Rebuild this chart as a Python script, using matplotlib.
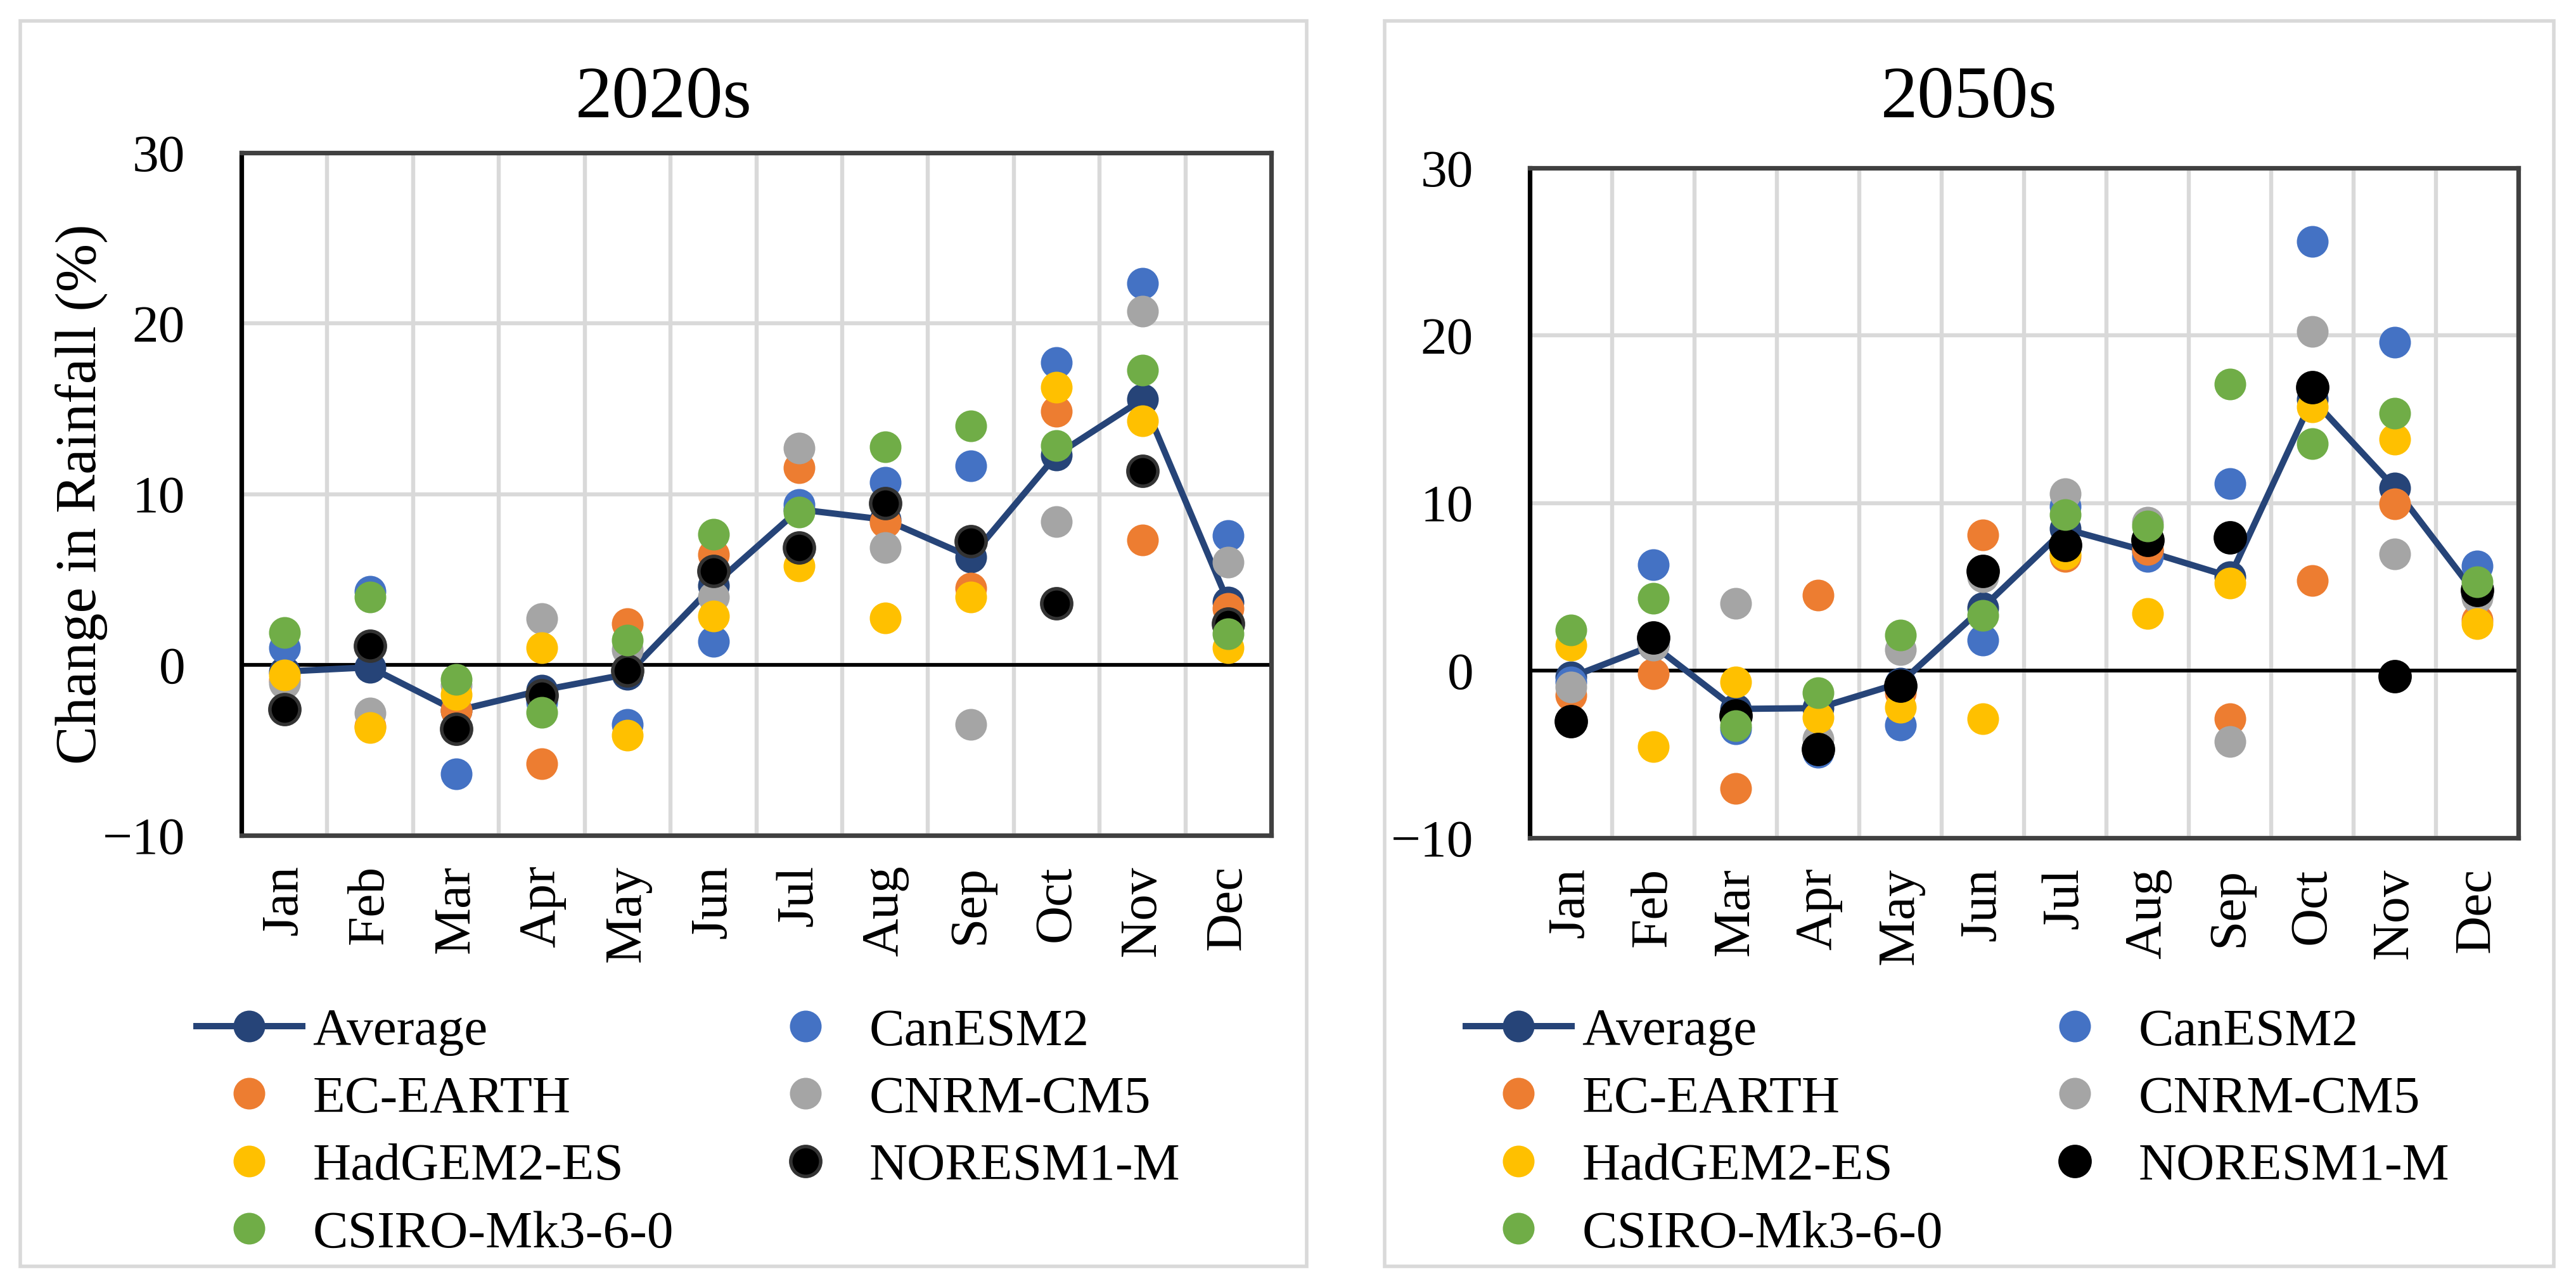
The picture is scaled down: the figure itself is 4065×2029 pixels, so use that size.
import numpy as np
import matplotlib
matplotlib.use("Agg")
import matplotlib.pyplot as plt
from matplotlib.patches import Rectangle

plt.rcParams['font.family'] = ['Liberation Serif', 'DejaVu Serif']

months = ['Jan', 'Feb', 'Mar', 'Apr', 'May', 'Jun',
          'Jul', 'Aug', 'Sep', 'Oct', 'Nov', 'Dec']
models = ['CanESM2', 'EC-EARTH', 'CNRM-CM5', 'HadGEM2-ES', 'NORESM1-M', 'CSIRO-Mk3-6-0']
model_colors = ['#4472C4', '#ED7D31', '#A5A5A5', '#FFC000', '#000000', '#70AD47']
avg_color = '#264478'

# 2020s, change in rainfall (%)
avg_2020 = [-0.4, -0.15, -2.7, -1.5, -0.55, 4.65, 9.1, 8.5, 6.3, 12.3, 15.55, 3.65]
can_2020 = [1.0, 4.3, -6.4, -2.2, -3.5, 1.35, 9.4, 10.7, 11.65, 17.7, 22.35, 7.55]
ec_2020 = [-0.9, -3.6, -2.7, -5.8, 2.4, 6.45, 11.55, 8.35, 4.5, 14.85, 7.3, 3.3]
cnrm_2020 = [-1.1, -2.85, -1.2, 2.7, 0.9, 3.95, 12.7, 6.85, -3.5, 8.4, 20.7, 6.0]
had_2020 = [-0.6, -3.7, -1.75, 1.0, -4.15, 2.85, 5.8, 2.75, 3.95, 16.25, 14.3, 1.0]
nor_2020 = [-2.6, 1.1, -3.75, -1.8, -0.35, 5.5, 6.85, 9.45, 7.25, 3.6, 11.35, 2.4]
csiro_2020 = [1.9, 3.95, -0.85, -2.8, 1.45, 7.65, 8.95, 12.75, 14.0, 12.85, 17.25, 1.8]

# 2050s
avg_2050 = [-0.4, 1.5, -2.3, -2.25, -0.75, 3.75, 8.45, 7.1, 5.6, 16.2, 10.9, 4.45]
can_2050 = [-0.7, 6.3, -3.5, -4.9, -3.25, 1.8, 9.8, 6.8, 11.15, 25.6, 19.6, 6.25]
ec_2050 = [-1.5, -0.2, -7.05, 4.5, -1.35, 8.1, 6.8, 7.2, -2.9, 5.35, 9.95, 3.0]
cnrm_2050 = [-1.0, 1.5, 4.0, -4.1, 1.25, 5.6, 10.55, 8.85, -4.25, 20.25, 6.95, 4.35]
had_2050 = [1.5, -4.55, -0.7, -2.8, -2.2, -2.9, 6.95, 3.4, 5.2, 15.75, 13.8, 2.8]
nor_2050 = [-3.05, 1.95, -2.7, -4.7, -0.9, 5.95, 7.5, 7.8, 7.95, 16.9, -0.35, 4.8]
csiro_2050 = [2.4, 4.3, -3.3, -1.35, 2.1, 3.3, 9.3, 8.6, 17.1, 13.55, 15.35, 5.3]

W, H, DPI = 4065, 2029, 200
fig = plt.figure(figsize=(W / DPI, H / DPI), dpi=DPI)

FS = 30
MS = 17


def px(x0, y0, x1, y1):
    # pixel box -> figure fraction [left, bottom, width, height]
    return [x0 / W, 1 - y1 / H, (x1 - x0) / W, (y1 - y0) / H]


def draw_panel(box, axbox, title, title_x, avg, series, noresm_edge, show_ylabel, leg_x):
    border = Rectangle(box[:2], box[2], box[3], transform=fig.transFigure,
                       fill=False, ec='#D9D9D9', lw=2.0)
    fig.add_artist(border)

    ax = fig.add_axes(axbox)
    x = np.arange(len(months))
    handles = []
    h, = ax.plot(x, avg, color=avg_color, lw=3.6, marker='o', ms=MS,
                 mfc=avg_color, mec=avg_color, label='Average', zorder=3)
    handles.append(h)
    for name, vals, col in zip(models, series, model_colors):
        ec = col
        mew = 1.0
        if name == 'NORESM1-M':
            ec = noresm_edge
            mew = 2.0
        h, = ax.plot(x, vals, ls='none', marker='o', ms=MS, mfc=col, mec=ec,
                     mew=mew, label=name, zorder=4)
        handles.append(h)

    ax.axhline(0, color='black', lw=2.1, zorder=2)
    ax.set_xlim(-0.5, 11.5)
    ax.set_ylim(-10, 30)
    ax.set_yticks([-10, 0, 10, 20, 30])
    ax.set_xticks(x)
    ax.set_xticklabels(months, rotation=90)
    ax.set_xticks(np.arange(-0.5, 12, 1), minor=True)
    ax.set_axisbelow(True)
    ax.grid(which='minor', axis='x', color='#D9D9D9', lw=2.3)
    ax.grid(which='major', axis='y', color='#D9D9D9', lw=2.3)
    ax.tick_params(axis='both', which='both', length=0, labelsize=FS)
    ax.tick_params(axis='y', pad=32)
    ax.tick_params(axis='x', pad=17)
    for s in ['top', 'right', 'bottom']:
        ax.spines[s].set_color('#404040')
        ax.spines[s].set_linewidth(2.6)
    ax.spines['left'].set_color('black')
    ax.spines['left'].set_linewidth(2.6)

    fig.text(title_x, 1 - 185 / H, title, ha='center', va='baseline', fontsize=42)
    if show_ylabel:
        fig.text(128 / W, 1 - 780 / H, 'Change in Rainfall (%)', rotation=90,
                 ha='center', va='center', fontsize=33)

    # row-wise legend order like the original: fill column 1 then column 2
    order = [0, 2, 4, 6, 1, 3, 5]
    ax.legend([handles[i] for i in order], [handles[i].get_label() for i in order],
              ncol=2, loc='upper left', bbox_to_anchor=(leg_x, 1 - 1590 / H),
              bbox_transform=fig.transFigure, frameon=False, fontsize=FS,
              handlelength=2.0, handletextpad=0.2, columnspacing=1.5,
              labelspacing=0.36, borderpad=0, borderaxespad=0)
    return ax


draw_panel(px(32, 33, 2062, 1998), px(381, 241, 2006, 1318), '2020s', 1047 / W,
           avg_2020, [can_2020, ec_2020, cnrm_2020, had_2020, nor_2020, csiro_2020],
           '#333333', True, 310 / W)
draw_panel(px(2185, 33, 4030, 1998), px(2414, 265, 3974, 1322), '2050s', 3107 / W,
           avg_2050, [can_2050, ec_2050, cnrm_2050, had_2050, nor_2050, csiro_2050],
           '#000000', False, 2313 / W)

fig.savefig('out.png', dpi=DPI, facecolor='white')
